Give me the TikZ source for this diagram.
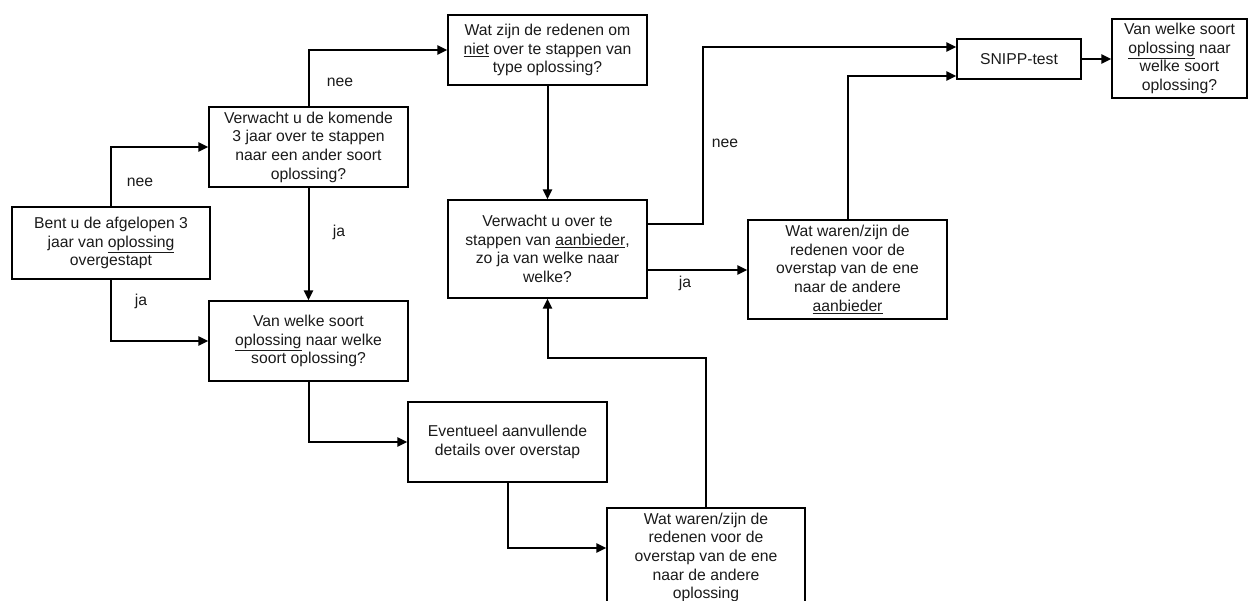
\documentclass[tikz,border=0pt]{standalone}
\usepackage{fontspec}
\setmainfont{Liberation Sans}
\usepackage{xcolor}
\usepackage{tikz}
\usetikzlibrary{calc,arrows.meta,positioning}
\definecolor{linec}{HTML}{000000}
\definecolor{textc}{HTML}{1A1A1A}
\tikzset{
  ar/.style={-{Triangle[length=7.5pt,width=7pt]},line width=1.5pt,linec},
  box/.style={draw=linec,line width=1.1pt,align=center,inner sep=2pt,text=textc,
    minimum width=149.25pt,font=\fontsize{11.8}{14}\selectfont},
  lbl/.style={text=textc,font=\fontsize{11.8}{14}\selectfont}
}

\begin{document}
\begin{tikzpicture}[x=0.75pt,y=-0.75pt]
\useasboundingbox (0,0) rectangle (1248,600);
\clip (0,0) rectangle (1248,600);
\node[box,minimum width=148.5pt,minimum height=54pt] (A) at (111,243) {Bent u de afgelopen 3\\jaar van \underline{oplossing}\\overgestapt};
\node[box,minimum height=60pt] (B) at (308.5,147) {Verwacht u de komende\\3 jaar over te stappen\\naar een ander soort\\oplossing?};
\node[box,minimum height=60pt] (C) at (308.5,341) {Van welke soort\\\underline{oplossing} naar welke\\soort oplossing?};
\node[box,minimum height=52.5pt] (D) at (547.5,50) {Wat zijn de redenen om\\\underline{niet} over te stappen van\\type oplossing?};
\node[box,minimum height=73.5pt] (E) at (547.5,249) {Verwacht u over te\\stappen van \underline{aanbieder},\\zo ja van welke naar\\welke?};
\node[box,minimum height=74.25pt] (F) at (847.5,269.5) {Wat waren/zijn de\\redenen voor de\\overstap van de ene\\naar de andere\\\underline{aanbieder}};
\node[box,minimum width=93pt,minimum height=30pt] (S) at (1019,59) {SNIPP-test};
\node[box,minimum width=101.25pt,minimum height=59.25pt] (G) at (1179.5,58.5) {Van welke soort\\\underline{oplossing} naar\\welke soort\\oplossing?};
\node[box,minimum height=60pt] (H) at (507.5,442) {Eventueel aanvullende\\details over overstap};
\node[box,minimum width=148.5pt,minimum height=74.25pt] (I) at (706,557.5) {Wat waren/zijn de\\redenen voor de\\overstap van de ene\\naar de andere\\oplossing};
\coordinate (ej) at ($(E.east)+(0,21)$);
\coordinate (hi) at ($(I.west)+(0,-9.5)$);
\draw[ar] (A.north) |- (B.west);
\draw[ar] (A.south) |- (C.west);
\draw[ar] (B.south) -- (C.north);
\draw[ar] (B.north) |- (D.west);
\draw[ar] (D.south) -- (E.north);
\draw[ar] ($(E.east)+(0,-25)$) -- ++(55,0) |- ($(S.west)+(0,-12)$);
\draw[ar] (ej) -- (ej -| F.west);
\draw[ar] (F.north) |- ($(S.west)+(0,17)$);
\draw[ar] (S.east) -- (S.east -| G.west);
\draw[ar] (C.south) |- (H.west);
\draw[ar] (H.south) |- (hi);
\draw[ar] (I.north) -- ++(0,-149) -| (E.south);
\node[lbl] (n1) at (140,182) {nee};
\node[lbl] (j1) at (141,301) {ja};
\node[lbl] (j2) at (339,232) {ja};
\node[lbl] (n2) at (340,82) {nee};
\node[lbl] (n3) at (725,143) {nee};
\node[lbl] (j3) at (685,283) {ja};
\end{tikzpicture}
\end{document}
